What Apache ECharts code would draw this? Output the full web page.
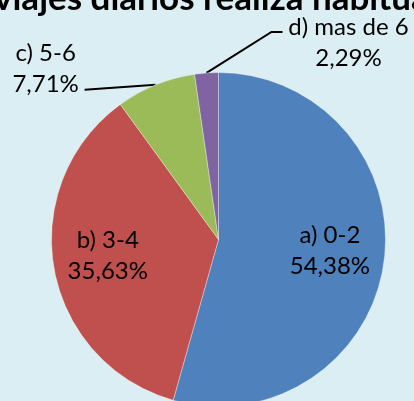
<!DOCTYPE html>
<html>
<head>
<meta charset="utf-8">
<script src="https://cdn.jsdelivr.net/npm/echarts@6/dist/echarts.min.js"></script>
<style>
  html, body { margin: 0; padding: 0; background: #dbeef4; }
  #main { width: 414px; height: 401px; }
</style>
</head>
<body>
<div id="main"></div>
<script>
  // datos
  var categorias = ['a) 0-2', 'b) 3-4', 'c) 5-6', 'd) mas de 6'];
  var porcentajes = [54.38, 35.63, 7.71, 2.29];
  var colores = ['#4f81bd', '#c0504d', '#9bbb59', '#8064a2'];

  var cx = 218.5, cy = 239.5, r = 167;

  var myChart = echarts.init(document.getElementById('main'));

  var datos = categorias.map(function (c, i) {
    return {
      name: c,
      value: porcentajes[i],
      itemStyle: { color: colores[i] },
      label: { position: i < 2 ? 'inside' : 'outside' }
    };
  });

  var option = {
    backgroundColor: '#dbeef4',
    animation: false,
    title: {
      text: 'viajes diarios realiza habitualmente?',
      left: -6,
      top: -19,
      padding: 0,
      textStyle: {
        fontFamily: 'Lato',
        fontWeight: 'bold',
        fontSize: 35,
        color: '#000'
      }
    },
    series: [
      {
        type: 'pie',
        center: [cx, cy],
        radius: r,
        startAngle: 90,
        clockwise: true,
        avoidLabelOverlap: false,
        data: datos,
        itemStyle: {
          borderColor: 'rgba(255,255,255,0.35)',
          borderWidth: 1
        },
        label: {
          color: '#000',
          fontFamily: 'Lato',
          fontSize: 24,
          lineHeight: 31,
          align: 'center',
          formatter: function (p) {
            return p.name + '\n' + p.value.toFixed(2).replace('.', ',') + '%';
          }
        },
        labelLine: {
          show: true,
          length: 0,
          length2: 70,
          lineStyle: { color: '#000', width: 2 }
        },
        labelLayout: function (p) {
          var i = p.dataIndex;
          var lx = p.labelRect.x + p.labelRect.width / 2;
          var ly = p.labelRect.y + p.labelRect.height / 2;
          if (i < 2) {
            // etiquetas interiores algo mas hacia fuera
            return { dx: (lx - cx) * 0.3, dy: (ly - cy) * 0.3 - 4 };
          }
          var e = p.labelLinePoints[0];
          if (i === 2) {
            return {
              x: e[0] - 110, y: e[1] - 16, align: 'center', verticalAlign: 'middle',
              labelLinePoints: [e, [e[0] - 71, e[1] + 5]]
            };
          }
          return {
            x: e[0] + 142, y: e[1] - 30, align: 'center', verticalAlign: 'middle',
            labelLinePoints: [e, [e[0] + 65, e[1] - 41], [e[0] + 76, e[1] - 41]]
          };
        }
      }
    ]
  };

  myChart.setOption(option);
</script>
</body>
</html>
